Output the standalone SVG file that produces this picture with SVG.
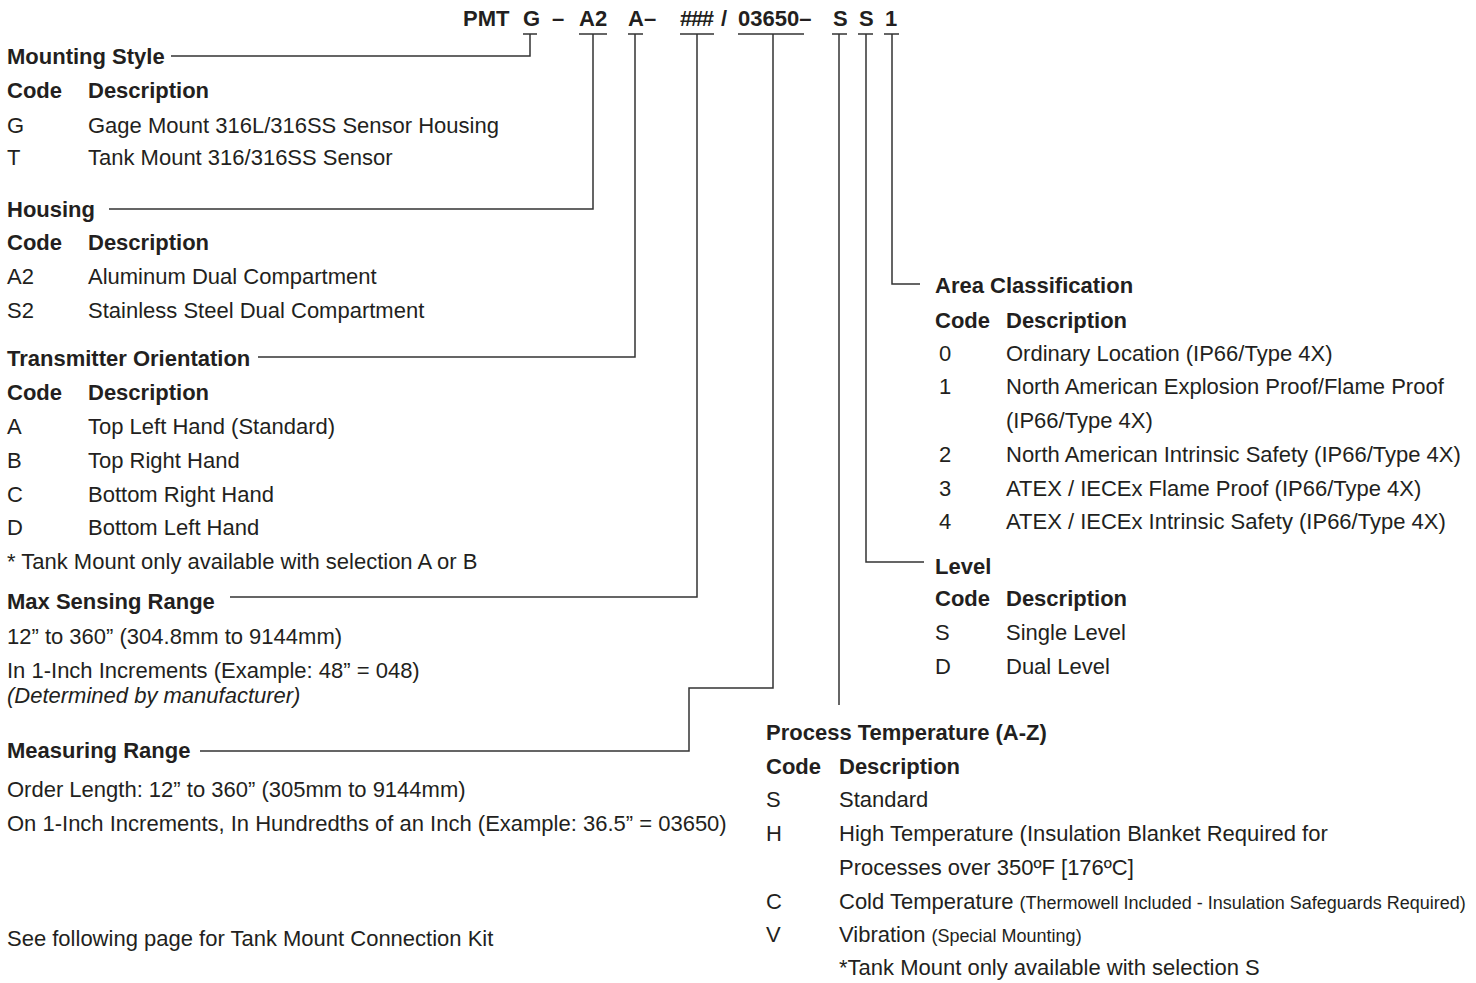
<svg xmlns="http://www.w3.org/2000/svg" width="1476" height="983" viewBox="0 0 1476 983">
<style>
text{font-family:"Liberation Sans",Arial,sans-serif;font-size:22px;fill:#231f20}
.b{font-weight:bold}
.i{font-style:italic}
.s{font-size:18px}
.c line,.c polyline{stroke:#333;stroke-width:1.5;fill:none}
</style>
<rect width="1476" height="983" fill="#fff"/>
<g id="title" class="b">
<text class="b" x="463" y="26">PMT</text>
<text class="b" x="523" y="26">G</text>
<text class="b" x="552" y="26">–</text>
<text class="b" x="579" y="26">A2</text>
<text class="b" x="628" y="26">A–</text>
<text class="b" x="680" y="26" letter-spacing="-1.3">###</text>
<text class="b" x="721" y="26">/</text>
<text class="b" x="738" y="26">03650–</text>
<text class="b" x="833" y="26">S</text>
<text class="b" x="859" y="26">S</text>
<text class="b" x="885" y="26">1</text>
</g>
<g id="connectors" class="c">
<line x1="523" y1="34" x2="537" y2="34"/>
<polyline points="530,34 530,56 171,56"/>
<line x1="579" y1="34" x2="607" y2="34"/>
<polyline points="593,34 593,209 109,209"/>
<line x1="628" y1="34" x2="643" y2="34"/>
<polyline points="635,34 635,357 258,357"/>
<line x1="680" y1="34" x2="714" y2="34"/>
<polyline points="697,34 697,597 230,597"/>
<line x1="738" y1="34" x2="804" y2="34"/>
<polyline points="773,34 773,688 689,688 689,751 200,751"/>
<line x1="832" y1="34" x2="847" y2="34"/>
<polyline points="839,34 839,705"/>
<line x1="858" y1="34" x2="873" y2="34"/>
<polyline points="866,34 866,562 924,562"/>
<line x1="884" y1="34" x2="899" y2="34"/>
<polyline points="892,34 892,284 920,284"/>
</g>
<g id="mounting-style">
<text class="b" x="7" y="64">Mounting Style</text>
<text class="b" x="7" y="98">Code</text><text class="b" x="88" y="98">Description</text>
<text x="7" y="133">G</text><text x="88" y="133">Gage Mount 316L/316SS Sensor Housing</text>
<text x="7" y="165">T</text><text x="88" y="165">Tank Mount 316/316SS Sensor</text>
</g>
<g id="housing">
<text class="b" x="7" y="217">Housing</text>
<text class="b" x="7" y="250">Code</text><text class="b" x="88" y="250">Description</text>
<text x="7" y="284">A2</text><text x="88" y="284">Aluminum Dual Compartment</text>
<text x="7" y="318">S2</text><text x="88" y="318">Stainless Steel Dual Compartment</text>
</g>
<g id="orientation">
<text class="b" x="7" y="366">Transmitter Orientation</text>
<text class="b" x="7" y="400">Code</text><text class="b" x="88" y="400">Description</text>
<text x="7" y="434">A</text><text x="88" y="434">Top Left Hand (Standard)</text>
<text x="7" y="468">B</text><text x="88" y="468">Top Right Hand</text>
<text x="7" y="502">C</text><text x="88" y="502">Bottom Right Hand</text>
<text x="7" y="535">D</text><text x="88" y="535">Bottom Left Hand</text>
<text x="7" y="569">* Tank Mount only available with selection A or B</text>
</g>
<g id="max-sensing-range">
<text class="b" x="7" y="609">Max Sensing Range</text>
<text x="7" y="644">12” to 360” (304.8mm to 9144mm)</text>
<text x="7" y="678">In 1-Inch Increments (Example: 48” = 048)</text>
<text class="i" x="7" y="703">(Determined by manufacturer)</text>
</g>
<g id="measuring-range">
<text class="b" x="7" y="758">Measuring Range</text>
<text x="7" y="797">Order Length: 12” to 360” (305mm to 9144mm)</text>
<text x="7" y="831">On 1-Inch Increments, In Hundredths of an Inch (Example: 36.5” = 03650)</text>
</g>
<g id="note">
<text x="7" y="946">See following page for Tank Mount Connection Kit</text>
</g>
<g id="area-classification">
<text class="b" x="935" y="293">Area Classification</text>
<text class="b" x="935" y="328">Code</text><text class="b" x="1006" y="328">Description</text>
<text x="939" y="361">0</text><text x="1006" y="361">Ordinary Location (IP66/Type 4X)</text>
<text x="939" y="394">1</text><text x="1006" y="394">North American Explosion Proof/Flame Proof</text>
<text x="1006" y="428">(IP66/Type 4X)</text>
<text x="939" y="462">2</text><text x="1006" y="462">North American Intrinsic Safety (IP66/Type 4X)</text>
<text x="939" y="496">3</text><text x="1006" y="496">ATEX / IECEx Flame Proof (IP66/Type 4X)</text>
<text x="939" y="529">4</text><text x="1006" y="529">ATEX / IECEx Intrinsic Safety (IP66/Type 4X)</text>
</g>
<g id="level">
<text class="b" x="935" y="574">Level</text>
<text class="b" x="935" y="606">Code</text><text class="b" x="1006" y="606">Description</text>
<text x="935" y="640">S</text><text x="1006" y="640">Single Level</text>
<text x="935" y="674">D</text><text x="1006" y="674">Dual Level</text>
</g>
<g id="process-temperature">
<text class="b" x="766" y="740">Process Temperature (A-Z)</text>
<text class="b" x="766" y="774">Code</text><text class="b" x="839" y="774">Description</text>
<text x="766" y="807">S</text><text x="839" y="807">Standard</text>
<text x="766" y="841">H</text><text x="839" y="841">High Temperature (Insulation Blanket Required for</text>
<text x="839" y="875">Processes over 350ºF [176ºC]</text>
<text x="766" y="909">C</text><text x="839" y="909">Cold Temperature <tspan class="s">(Thermowell Included - Insulation Safeguards Required)</tspan></text>
<text x="766" y="942">V</text><text x="839" y="942">Vibration <tspan class="s">(Special Mounting)</tspan></text>
<text x="839" y="975">*Tank Mount only available with selection S</text>
</g>
</svg>
